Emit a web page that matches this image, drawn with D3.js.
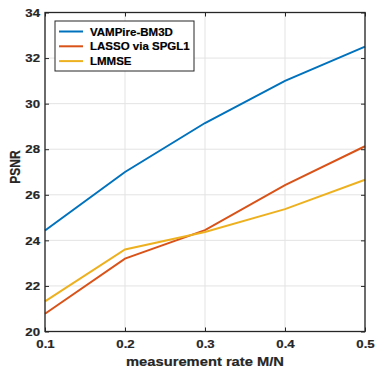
<!DOCTYPE html>
<html>
<head>
<meta charset="utf-8">
<script src="https://cdn.jsdelivr.net/npm/d3@7"></script>
<style>
  body { margin: 0; background: #fff; }
  svg { display: block; font-family: "Liberation Sans", Arial, sans-serif; font-weight: bold; }
  .tick text { font-size: 11.5px; fill: #262626; font-weight: bold; }
  text { stroke: currentColor; stroke-width: 0.2px; }
</style>
</head>
<body>
<svg id="chart"></svg>
<script>
const rates = [0.1, 0.2, 0.3, 0.4, 0.5];
const seriesNames = ['VAMPire-BM3D', 'LASSO via SPGL1', 'LMMSE'];
const vampire = [24.43, 27.0, 29.15, 31.0, 32.5];
const lasso = [20.78, 23.2, 24.45, 26.42, 28.13];
const lmmse = [21.32, 23.6, 24.37, 25.37, 26.66];
const xTicks = [0.1, 0.2, 0.3, 0.4, 0.5];
const yTicks = [20, 22, 24, 26, 28, 30, 32, 34];
const colors = ['#0072BD', '#D95319', '#EDB120'];

const width = 375, height = 369;
const margin = {top: 12.5, right: 10, bottom: 37.5, left: 45};
const w = width - margin.left - margin.right;
const h = height - margin.top - margin.bottom;
const axisColor = '#262626';
const stretch = 1.15; // glyphs in the figure are a bit wider than tall

const svg = d3.select('#chart').attr('width', width).attr('height', height)
    .style('color', axisColor);
const chart = svg.append('g').attr('transform', `translate(${margin.left},${margin.top})`);

const xScale = d3.scaleLinear().domain([0.1, 0.5]).range([0, w]);
const yScale = d3.scaleLinear().domain([20, 34]).range([h, 0]);

// grid
chart.append('g').selectAll('line').data(xTicks).join('line')
    .attr('x1', d => xScale(d)).attr('x2', d => xScale(d))
    .attr('y1', 0).attr('y2', h)
    .attr('stroke', '#e3e3e3').attr('stroke-width', 1);
chart.append('g').selectAll('line').data(yTicks).join('line')
    .attr('y1', d => yScale(d)).attr('y2', d => yScale(d))
    .attr('x1', 0).attr('x2', w)
    .attr('stroke', '#e3e3e3').attr('stroke-width', 1);

// lines
const data = [vampire, lasso, lmmse];
const line = d3.line().x((d, i) => xScale(rates[i])).y(d => yScale(d));
chart.append('g').selectAll('path').data(data).join('path')
    .attr('d', d => line(d))
    .attr('fill', 'none')
    .attr('stroke', (d, i) => colors[i])
    .attr('stroke-width', 2);

// axes (ticks pointing inward, box)
const xAxis = d3.axisBottom(xScale).tickValues(xTicks).tickSize(-4).tickFormat(d3.format('.1f'));
const yAxis = d3.axisLeft(yScale).tickValues(yTicks).tickSize(-4).tickFormat(d3.format('d'));
const xTop = d3.axisTop(xScale).tickValues(xTicks).tickSize(-4).tickFormat('');
const yRight = d3.axisRight(yScale).tickValues(yTicks).tickSize(-4).tickFormat('');

function style(g) {
  g.select('.domain').remove();
  g.selectAll('.tick line').attr('stroke', axisColor).attr('stroke-width', 1);
}
const xAxisG = chart.append('g').attr('transform', `translate(0,${h})`).call(xAxis).call(style);
xAxisG.selectAll('.tick text')
    .attr('y', 17).attr('dy', null)
    .attr('transform', `scale(${stretch},1)`);
const yAxisG = chart.append('g').call(yAxis).call(style);
yAxisG.selectAll('.tick text')
    .attr('x', -5 / stretch)
    .attr('transform', `scale(${stretch},1)`);
chart.append('g').call(xTop).call(style);
chart.append('g').attr('transform', `translate(${w},0)`).call(yRight).call(style);
chart.append('rect').attr('width', w).attr('height', h)
    .attr('fill', 'none').attr('stroke', axisColor).attr('stroke-width', 1.3);

// axis titles
svg.append('text')
    .attr('transform', `translate(${margin.left + w / 2},366) scale(1.16,1)`)
    .attr('text-anchor', 'middle')
    .attr('font-size', 12.7).attr('fill', axisColor)
    .text('measurement rate M/N');
svg.append('text')
    .attr('transform', `translate(20,167) rotate(-90) scale(1,1.15)`)
    .attr('text-anchor', 'middle')
    .attr('font-size', 12).attr('fill', axisColor)
    .text('PSNR');

// legend
const legend = svg.append('g').attr('transform', 'translate(55,21)');
legend.append('rect').attr('width', 139).attr('height', 50)
    .attr('fill', '#fff').attr('stroke', axisColor).attr('stroke-width', 1);
const items = legend.selectAll('.item').data(seriesNames).join('g')
    .attr('class', 'item')
    .attr('transform', (d, i) => `translate(0,${10.5 + i * 14.8})`);
items.append('line').attr('x1', 4).attr('x2', 28)
    .attr('stroke', (d, i) => colors[i]).attr('stroke-width', 2);
items.append('text').attr('x', 35).attr('dy', '0.36em')
    .attr('font-size', 11.5).attr('fill', '#000').style('color', '#000')
    .text(d => d);
</script>
</body>
</html>
